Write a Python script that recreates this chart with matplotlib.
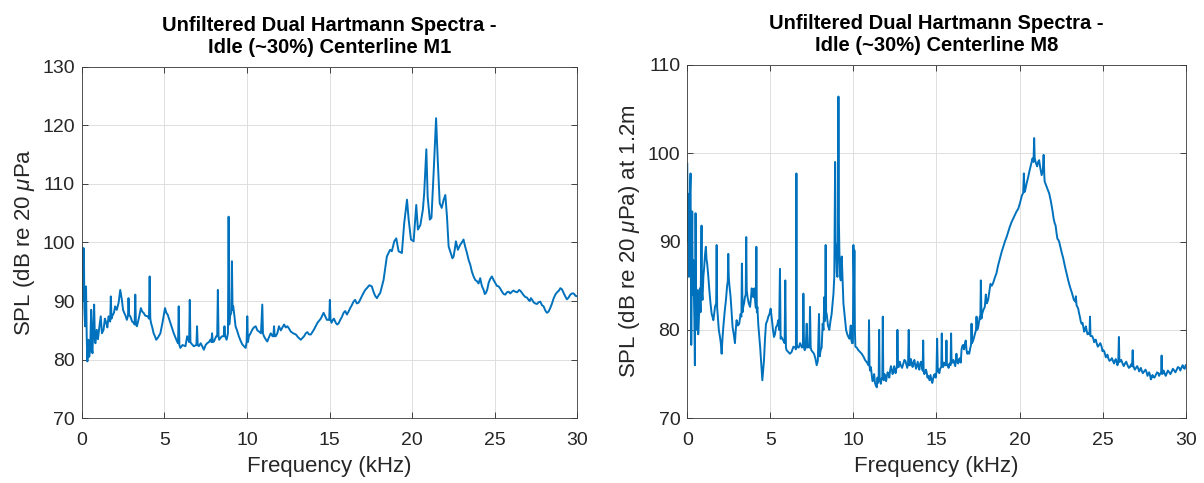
"""
Dual Hartmann spectra at idle, centerline microphones M1 and M8.
"""

import matplotlib
matplotlib.use("Agg")
import matplotlib.pyplot as plt
import numpy as np

plt.rcParams["font.family"] = ["Liberation Sans", "DejaVu Sans"]
plt.rcParams["mathtext.fontset"] = "custom"
plt.rcParams["mathtext.rm"] = "Liberation Sans"
plt.rcParams["mathtext.it"] = "Liberation Sans:italic"

LINE_COLOR = "#0072BD"
TEXT_COLOR = "#262626"

# --- M1 spectrum (frequency in kHz, SPL in dB) ---
m1_freq = [
    0.00, 0.03, 0.08, 0.10, 0.13, 0.16, 0.20, 0.26, 0.30, 0.34, 0.40, 0.45,
    0.51, 0.57, 0.61, 0.65, 0.70, 0.75, 0.80, 0.83, 0.91, 0.98, 1.07, 1.15,
    1.22, 1.32, 1.40, 1.48, 1.55, 1.62, 1.72, 1.76, 1.80, 1.84, 1.95, 2.02,
    2.12, 2.23, 2.33, 2.43, 2.50, 2.57, 2.65, 2.73, 2.80, 2.83, 2.87, 2.94,
    3.05, 3.14, 3.20, 3.24, 3.28, 3.34, 3.45, 3.58, 3.66, 3.74, 3.85, 3.99,
    4.07, 4.11, 4.15, 4.19, 4.27, 4.35, 4.43, 4.51, 4.62, 4.76, 4.90, 5.04,
    5.12, 5.20, 5.28, 5.36, 5.45, 5.57, 5.67, 5.77, 5.83, 5.87, 5.91, 5.97,
    6.10, 6.28, 6.38, 6.50, 6.54, 6.58, 6.62, 6.78, 6.94, 6.98, 7.02, 7.09,
    7.20, 7.29, 7.39, 7.50, 7.59, 7.70, 7.79, 7.85, 7.89, 7.93, 8.00, 8.14,
    8.20, 8.24, 8.28, 8.32, 8.42, 8.50, 8.60, 8.64, 8.68, 8.77, 8.85, 8.89,
    8.93, 8.97, 9.05, 9.09, 9.13, 9.17, 9.24, 9.31, 9.40, 9.51, 9.62, 9.72,
    9.82, 9.92, 9.98, 10.02, 10.06, 10.12, 10.22, 10.32, 10.42, 10.53, 10.63,
    10.73, 10.85, 10.93, 10.97, 11.03, 11.13, 11.23, 11.33, 11.44, 11.55,
    11.60, 11.64, 11.68, 11.74, 11.84, 11.94, 12.05, 12.15, 12.25, 12.35,
    12.45, 12.55, 12.65, 12.80, 12.96, 13.10, 13.26, 13.36, 13.46, 13.56,
    13.66, 13.76, 13.87, 14.07, 14.27, 14.47, 14.64, 14.84, 14.98, 15.02,
    15.06, 15.20, 15.34, 15.40, 15.55, 15.65, 15.85, 16.05, 16.25, 16.45,
    16.65, 16.85, 17.06, 17.26, 17.56, 17.66, 17.87, 18.07, 18.27, 18.47,
    18.67, 18.77, 18.92, 19.04, 19.18, 19.38, 19.52, 19.69, 19.79, 19.93,
    20.09, 20.25, 20.35, 20.50, 20.65, 20.73, 20.86, 20.94, 21.07, 21.17,
    21.31, 21.45, 21.55, 21.67, 21.79, 21.91, 22.01, 22.11, 22.21, 22.37,
    22.51, 22.65, 22.77, 22.91, 23.11, 23.32, 23.52, 23.72, 23.92, 24.12,
    24.33, 24.47, 24.63, 24.83, 25.03, 25.24, 25.44, 25.64, 25.84, 26.04,
    26.24, 26.48, 26.65, 26.85, 27.05, 27.19, 27.35, 27.56, 27.76, 27.96,
    28.16, 28.36, 28.57, 28.81, 28.97, 29.17, 29.37, 29.58, 29.78, 30.00,
]
m1_spl = [
    88.8, 99.0, 99.0, 90.0, 99.0, 88.8, 85.7, 92.5, 84.0, 79.7, 83.4, 80.5,
    81.7, 88.5, 82.0, 81.1, 86.0, 89.4, 83.0, 82.8, 85.1, 83.5, 85.7, 87.4,
    84.5, 85.1, 87.0, 86.3, 85.5, 87.4, 86.5, 90.8, 87.0, 87.4, 88.0, 89.1,
    88.5, 89.7, 91.9, 90.2, 88.5, 88.0, 87.5, 86.8, 87.5, 90.5, 87.6, 87.4,
    86.5, 86.3, 86.0, 91.1, 86.0, 85.7, 87.0, 88.8, 88.2, 88.0, 87.5, 87.4,
    87.0, 94.2, 87.0, 86.3, 85.5, 84.5, 84.0, 83.4, 83.8, 84.5, 86.5, 88.8,
    88.0, 87.7, 87.0, 86.3, 85.5, 84.5, 83.8, 83.1, 82.8, 89.1, 82.5, 82.0,
    82.5, 82.3, 84.0, 83.0, 90.2, 83.0, 82.8, 82.3, 82.5, 85.7, 82.5, 82.3,
    82.8, 82.3, 81.7, 82.5, 82.8, 83.0, 83.4, 83.0, 84.5, 83.0, 83.1, 84.0,
    84.0, 91.9, 84.0, 83.4, 83.8, 84.0, 84.0, 85.7, 84.0, 83.4, 84.5, 104.4,
    86.0, 87.4, 88.0, 96.8, 88.5, 89.1, 87.5, 85.7, 85.0, 84.0, 83.2, 82.6,
    82.3, 82.0, 83.0, 87.4, 83.0, 84.0, 84.5, 85.1, 85.5, 85.7, 85.0,
    84.8, 84.5, 89.4, 84.5, 84.0, 83.5, 83.1, 83.8, 84.5, 84.0,
    84.0, 85.7, 84.0, 84.0, 84.5, 85.7, 85.0, 85.5, 86.0, 85.5,
    85.7, 85.3, 84.8, 84.5, 84.3, 83.8, 83.4, 83.7, 84.0, 84.5,
    84.7, 84.3, 84.3, 85.2, 86.3, 87.0, 88.0, 86.8, 86.8, 90.2,
    86.8, 86.8, 86.5, 86.2, 86.2, 86.8, 88.0, 87.7, 88.8, 89.9,
    89.6, 90.2, 91.4, 92.2, 92.5, 91.6, 90.5, 91.4, 93.6, 97.6,
    98.75, 98.5, 100.2, 100.7, 98.5, 98.2, 103.3, 107.3, 103.9, 100.5,
    100.2, 106.4, 102.2, 103.0, 105.6, 108.4, 115.9, 107.8, 103.9, 104.2,
    112.4, 121.2, 114.1, 106.7, 105.9, 107.3, 108.1, 104.4, 99.3, 97.9,
    97.6, 100.2, 98.75, 99.6, 100.5, 98.2, 96.2, 94.2, 93.4, 93.9,
    91.9, 91.4, 93.1, 94.2, 93.1, 92.5, 91.6, 91.1, 91.6, 91.6,
    91.6, 91.9, 91.4, 90.7, 90.2, 90.5, 89.8, 89.5, 89.9, 89.1,
    88.0, 88.8, 90.5, 91.6, 92.2, 91.4, 90.3, 91.1, 91.3, 90.8,
]
# finer ripple between the main M1 points
m1_fine_freq = [
    15.12, 15.27, 15.47, 15.75, 15.95, 16.15, 16.35, 16.55, 16.75, 16.95,
    17.16, 17.41, 17.76, 17.97, 18.17, 18.37, 18.57, 22.44, 22.58, 23.01,
    23.21, 23.42, 23.62, 23.82, 24.02, 24.22, 24.40, 24.55, 24.73, 24.93,
    25.13, 25.34, 25.54, 25.74, 25.94, 26.14, 26.36, 26.57, 26.75, 26.95,
    27.12, 27.27, 27.45, 27.66, 27.86, 28.06, 28.26, 28.47, 28.69, 28.89,
    29.07, 29.27, 29.47, 29.68, 29.89,
]
m1_fine_spl = [
    86.3, 87.0, 86.0, 87.3, 88.3, 88.2, 89.3, 90.2, 89.7, 90.8,
    91.9, 92.7, 90.9, 91.0, 92.5, 95.6, 98.2, 97.3, 98.8, 100.0,
    99.3, 97.0, 95.0, 93.6, 93.0, 92.6, 91.2, 92.0, 93.8, 93.6,
    92.6, 92.1, 91.2, 91.5, 91.3, 91.8, 91.5, 91.7, 91.0, 90.6,
    90.0, 90.2, 89.6, 89.8, 89.3, 88.4, 88.2, 89.6, 91.2, 91.8,
    92.0, 90.8, 90.6, 91.3, 90.9,
]

# --- M8 spectrum (frequency in kHz, SPL in dB at 1.2 m) ---
m8_freq = [
    0.00, 0.03, 0.06, 0.10, 0.13, 0.16, 0.20, 0.22, 0.24, 0.27, 0.30, 0.33,
    0.36, 0.40, 0.43, 0.46, 0.50, 0.53, 0.56, 0.62, 0.66, 0.70, 0.76, 0.80,
    0.86, 0.89, 0.92, 0.97, 1.02, 1.07, 1.12, 1.16, 1.20, 1.27, 1.33, 1.40,
    1.47, 1.52, 1.57, 1.62, 1.67, 1.74, 1.77, 1.80, 1.83, 1.90, 1.97, 2.02,
    2.07, 2.12, 2.17, 2.25, 2.33, 2.40, 2.44, 2.47, 2.50, 2.53, 2.61, 2.67,
    2.73, 2.80, 2.87, 2.92, 2.97, 3.05, 3.13, 3.21, 3.26, 3.29, 3.33, 3.37,
    3.42, 3.47, 3.52, 3.55, 3.58, 3.63, 3.70, 3.78, 3.83, 3.88, 3.93, 3.98,
    4.04, 4.10, 4.13, 4.16, 4.19, 4.22, 4.28, 4.34, 4.39, 4.44, 4.48, 4.52,
    4.57, 4.62, 4.68, 4.74, 4.81, 4.88, 4.95, 5.02, 5.10, 5.16, 5.22, 5.28,
    5.34, 5.41, 5.48, 5.53, 5.58, 5.62, 5.66, 5.72, 5.78, 5.86, 5.90, 5.94,
    5.98, 6.08, 6.18, 6.28, 6.39, 6.50, 6.54, 6.57, 6.60, 6.63, 6.71, 6.79,
    6.90, 6.96, 6.99, 7.03, 7.07, 7.13, 7.19, 7.24, 7.29, 7.35, 7.39, 7.43,
    7.47, 7.55, 7.63, 7.71, 7.79, 7.86, 7.93, 7.97, 8.03, 8.09, 8.15, 8.20,
    8.25, 8.29, 8.33, 8.36, 8.39, 8.47, 8.55, 8.62, 8.69, 8.75, 8.80, 8.85,
    8.90, 8.93, 8.96, 9.00, 9.04, 9.07, 9.10, 9.13, 9.16, 9.20, 9.24, 9.27,
    9.30, 9.35, 9.40, 9.48, 9.56, 9.63, 9.70, 9.77, 9.84, 9.88, 9.92, 9.97,
    10.00, 10.04, 10.06, 10.09, 10.12, 10.20, 10.30, 10.40, 10.50, 10.60,
    10.70, 10.82, 10.91, 10.94, 10.97, 11.00, 11.10, 11.20, 11.30, 11.41,
    11.48, 11.52, 11.55, 11.58, 11.61, 11.70, 11.74, 11.77, 11.80, 11.83,
    11.92, 12.01, 12.11, 12.21, 12.31, 12.41, 12.50, 12.58, 12.62, 12.65,
    12.69, 12.73, 12.85, 13.01, 13.13, 13.20, 13.29, 13.33, 13.37, 13.41,
    13.51, 13.61, 13.72, 13.82, 13.92, 14.02, 14.12, 14.17, 14.20, 14.23,
    14.32, 14.42, 14.50, 14.58, 14.70, 14.80, 14.90, 15.00, 15.04, 15.08,
    15.12, 15.22, 15.29, 15.32, 15.35, 15.40, 15.50, 15.57, 15.60, 15.63,
    15.68, 15.78, 15.85, 15.88, 15.91, 15.96, 16.08, 16.17, 16.20, 16.24,
    16.31, 16.41, 16.51, 16.61, 16.71, 16.81, 16.90, 16.97, 17.04, 17.08,
    17.11, 17.14, 17.21, 17.31, 17.38, 17.41, 17.45, 17.51, 17.61, 17.64,
    17.67, 17.71, 17.75, 17.83, 17.91, 17.97, 18.03, 18.11, 18.18, 18.25,
    18.33, 18.41, 18.51, 18.61, 18.71, 18.82, 18.92, 19.02, 19.12, 19.22,
    19.32, 19.42, 19.52, 19.62, 19.72, 19.82, 19.92, 20.02, 20.14, 20.22,
    20.26, 20.30, 20.34, 20.43, 20.52, 20.60, 20.68, 20.78, 20.84, 20.88,
    20.91, 20.94, 21.00, 21.06, 21.12, 21.18, 21.25, 21.33, 21.40, 21.45,
    21.49, 21.51, 21.57, 21.63, 21.71, 21.79, 21.89, 21.99, 22.11, 22.23,
    22.33, 22.43, 22.53, 22.63, 22.73, 22.83, 22.93, 23.03, 23.15, 23.27,
    23.36, 23.39, 23.43, 23.53, 23.63, 23.73, 23.84, 23.94, 24.04, 24.14,
    24.21, 24.24, 24.27, 24.30, 24.44, 24.54, 24.64, 24.79, 24.94, 25.04,
    25.14, 25.24, 25.34, 25.49, 25.64, 25.74, 25.84, 25.94, 25.98, 26.01,
    26.04, 26.20, 26.35, 26.50, 26.65, 26.77, 26.81, 26.85, 26.87, 27.01,
    27.15, 27.25, 27.35, 27.50, 27.65, 27.75, 27.85, 27.95, 28.05, 28.20,
    28.35, 28.45, 28.52, 28.55, 28.58, 28.61, 28.74, 28.86, 29.01, 29.16,
    29.31, 29.46, 29.61, 29.76, 29.88, 30.00,
]
m8_spl = [
    98.8, 90.0, 95.4, 86.0, 93.0, 95.1, 97.7, 88.0, 78.3, 86.0, 93.4, 84.0,
    87.9, 84.1, 81.0, 76.0, 93.2, 85.0, 80.0, 84.5, 79.5, 81.1, 84.7, 82.0,
    91.8, 84.0, 83.4, 86.0, 87.1, 88.5, 89.4, 88.0, 87.5, 86.0, 84.5, 83.0,
    81.8, 81.5, 81.1, 81.8, 82.6, 83.0, 89.6, 82.5, 81.8, 80.0, 79.2, 78.5,
    77.3, 79.0, 80.3, 82.0, 83.4, 85.0, 85.5, 88.6, 86.0, 85.2, 83.7, 82.0,
    80.3, 79.5, 78.5, 80.0, 81.1, 80.5, 80.7, 81.8, 81.5, 87.5, 82.0, 82.6,
    83.0, 83.7, 84.0, 90.5, 84.5, 83.7, 83.0, 82.6, 83.5, 84.7, 84.0, 83.7,
    84.7, 83.0, 82.5, 89.4, 82.0, 82.6, 80.5, 79.2, 78.0, 76.6, 75.5, 74.3,
    75.5, 76.6, 79.0, 80.7, 81.0, 81.5, 81.8, 82.4, 81.1, 80.0, 79.2, 79.5,
    80.3, 80.5, 81.1, 80.0, 86.9, 79.0, 79.2, 79.0, 78.8, 78.5, 85.6, 78.0,
    77.7, 77.5, 77.3, 77.5, 78.1, 78.0, 77.8, 97.7, 78.0, 78.1, 78.0, 78.5,
    78.0, 78.2, 84.1, 78.0, 77.7, 78.0, 80.7, 78.0, 78.1, 78.0, 82.6, 78.0,
    77.7, 77.5, 77.3, 76.8, 76.0, 76.5, 81.8, 77.0, 77.7, 78.0, 80.7, 80.0,
    83.7, 81.0, 89.6, 82.0, 81.8, 80.5, 80.0, 81.0, 81.8, 83.0, 84.1, 86.0,
    99.0, 90.0, 89.4, 86.5, 86.0, 90.0, 106.4, 92.0, 88.6, 86.0, 85.6, 87.0,
    88.3, 85.5, 83.0, 81.5, 80.0, 79.5, 79.2, 79.0, 80.5, 78.8, 78.5, 78.5,
    89.6, 85.0, 89.0, 80.0, 78.1, 78.0, 77.7, 77.5, 77.3, 77.0,
    76.6, 76.3, 76.0, 81.1, 76.0, 75.4, 75.0, 74.3, 74.0, 73.5,
    74.0, 74.3, 80.0, 74.5, 74.3, 74.5, 74.5, 81.5, 74.5, 74.3,
    74.5, 74.7, 75.0, 75.4, 75.5, 75.3, 75.5, 75.6, 75.7, 80.0,
    75.8, 75.8, 76.0, 76.2, 76.5, 76.0, 76.2, 80.0, 76.0, 76.0,
    76.3, 76.2, 76.0, 76.0, 75.8, 76.2, 75.9, 75.4, 78.8, 75.3,
    75.2, 75.1, 74.8, 74.3, 74.3, 74.5, 75.0, 75.2, 79.0, 75.3,
    75.5, 75.6, 75.8, 79.6, 75.9, 75.8, 76.0, 76.0, 78.8, 76.0,
    76.0, 76.2, 76.0, 79.6, 76.3, 76.3, 76.2, 76.5, 77.3, 76.5,
    76.2, 76.8, 77.8, 78.3, 78.4, 77.7, 77.5, 77.3, 78.0, 78.3,
    80.7, 78.5, 78.8, 79.5, 80.0, 81.5, 80.0, 80.3, 81.5, 81.2,
    85.6, 81.3, 81.8, 82.3, 82.6, 84.0, 83.0, 83.4, 84.3, 85.2,
    85.0, 85.3, 85.9, 86.4, 87.3, 88.1, 88.8, 89.4, 90.0, 90.5,
    91.1, 91.7, 92.2, 92.6, 93.0, 93.4, 93.7, 94.3, 95.2, 95.5,
    97.7, 95.6, 95.8, 96.6, 97.3, 98.0, 98.6, 99.4, 99.0, 101.7,
    99.5, 99.2, 98.8, 98.5, 99.0, 99.2, 98.3, 97.5, 98.0, 99.8,
    97.5, 96.8, 96.5, 96.2, 95.8, 95.4, 94.5, 93.4, 92.1, 90.9,
    90.2, 89.6, 88.8, 88.1, 87.2, 86.4, 85.6, 84.9, 84.2, 83.4,
    83.2, 83.8, 82.8, 82.4, 81.5, 80.7, 80.3, 80.0, 79.9, 79.6,
    79.5, 81.5, 79.3, 79.3, 79.0, 78.8, 78.5, 78.3, 78.1, 77.7,
    77.3, 77.0, 76.8, 76.6, 76.4, 76.5, 76.4, 76.3, 79.2, 76.4,
    76.4, 76.2, 76.2, 76.0, 75.8, 75.9, 77.7, 75.8, 75.8, 75.7,
    75.6, 75.5, 75.4, 75.3, 75.2, 75.0, 74.9, 74.6, 74.7, 74.9,
    75.1, 75.0, 75.2, 77.1, 75.0, 75.1, 75.0, 75.1, 75.2, 75.3,
    75.4, 75.5, 75.7, 75.8, 75.7, 76.0,
]
# finer ripple between the main M8 points
m8_fine_freq = [
    11.05, 11.15, 11.25, 11.35, 11.45, 11.65, 11.87, 11.97, 12.06, 12.16,
    12.26, 12.36, 12.46, 12.54, 12.79, 12.93, 13.07, 13.24, 13.46, 13.56,
    13.67, 13.77, 13.87, 13.97, 14.07, 14.27, 14.37, 14.46, 14.64, 14.75,
    14.85, 14.95, 15.17, 15.45, 15.73, 16.02, 16.13, 16.36, 16.46, 16.56,
    16.66, 16.76, 16.86, 22.05, 22.17, 22.28, 22.38, 23.58, 23.68, 23.79,
    23.89, 23.99, 24.09, 24.37, 24.49, 24.59, 24.71, 24.86, 24.99, 25.09,
    25.19, 25.29, 25.41, 25.56, 25.69, 25.79, 25.89, 26.12, 26.27, 26.42,
    26.58, 26.71, 26.94, 27.08, 27.20, 27.30, 27.42, 27.58, 27.70, 27.80,
    27.90, 28.00, 28.12, 28.28, 28.40, 28.67, 28.80, 28.93, 29.08, 29.23,
    29.38, 29.53, 29.68, 29.82, 29.94,
]
m8_fine_spl = [
    75.8, 74.2, 75.0, 73.7, 74.6, 73.9, 75.0, 74.2, 75.2, 74.6,
    75.9, 75.0, 75.9, 75.1, 76.4, 75.7, 76.6, 75.7, 76.7, 75.8,
    76.6, 75.6, 76.4, 75.5, 76.4, 75.0, 75.5, 74.6, 74.9, 74.0,
    74.9, 74.6, 75.1, 76.3, 75.7, 76.6, 75.9, 76.7, 76.3, 78.2,
    77.8, 78.8, 77.3, 92.6, 91.8, 90.3, 90.0, 81.9, 81.0, 80.8,
    79.8, 80.4, 79.5, 79.3, 78.6, 78.9, 78.1, 78.5, 77.6, 77.6,
    76.9, 77.2, 76.5, 76.8, 76.2, 76.7, 76.0, 76.6, 75.9, 76.4,
    75.7, 76.1, 75.5, 75.9, 75.3, 75.7, 75.1, 75.5, 74.8, 75.2,
    74.4, 74.9, 74.6, 75.2, 74.8, 75.4, 74.8, 75.4, 75.0, 75.6,
    75.2, 75.8, 75.4, 76.0, 75.6,
]

panels = [
    {
        "freq": m1_freq + m1_fine_freq, "spl": m1_spl + m1_fine_spl,
        "title": "Unfiltered Dual Hartmann Spectra -\nIdle (~30%) Centerline M1",
        "ylabel": r"SPL (dB re 20 $\mu$Pa",
        "ylim": (70, 130), "yticks": [70, 80, 90, 100, 110, 120, 130],
        "rect": [0.0679, 0.134, 0.4116, 0.728],
    },
    {
        "freq": m8_freq + m8_fine_freq, "spl": m8_spl + m8_fine_spl,
        "title": "Unfiltered Dual Hartmann Spectra -\nIdle (~30%) Centerline M8",
        "ylabel": r"SPL (dB re 20 $\mu$Pa) at 1.2m",
        "ylim": (70, 110), "yticks": [70, 80, 90, 100, 110],
        "rect": [0.5708, 0.134, 0.4140, 0.732],
    },
]


def draw_panel(fig, p):
    ax = fig.add_axes(p["rect"])
    f = np.asarray(p["freq"])
    s = np.asarray(p["spl"])
    order = np.argsort(f, kind="stable")
    ax.plot(f[order], s[order], color=LINE_COLOR, lw=1.4)
    ax.set_xlim(0, 30)
    ax.set_ylim(*p["ylim"])
    ax.set_xticks([0, 5, 10, 15, 20, 25, 30])
    ax.set_yticks(p["yticks"])
    ax.grid(True, color="#dedede", lw=0.7)
    ax.set_axisbelow(True)
    ax.tick_params(direction="in", top=True, right=True, length=4,
                   width=0.6, color=TEXT_COLOR, labelsize=14,
                   labelcolor=TEXT_COLOR)
    ax.tick_params(axis="x", pad=10)
    ax.tick_params(axis="y", pad=5)
    for sp in ax.spines.values():
        sp.set_color("#3a3a3a")
        sp.set_linewidth(0.6)
    ax.set_xlabel("Frequency (kHz)", fontsize=16, color=TEXT_COLOR, labelpad=5)
    ax.set_ylabel(p["ylabel"], fontsize=16, color=TEXT_COLOR, labelpad=4)
    ax.set_title(p["title"], fontsize=14.5, fontweight="bold", color="black",
                 pad=10, linespacing=1.2)
    return ax


fig = plt.figure(figsize=(12.04, 4.83), dpi=100)
for p in panels:
    draw_panel(fig, p)

fig.savefig("out.png", dpi=100)
